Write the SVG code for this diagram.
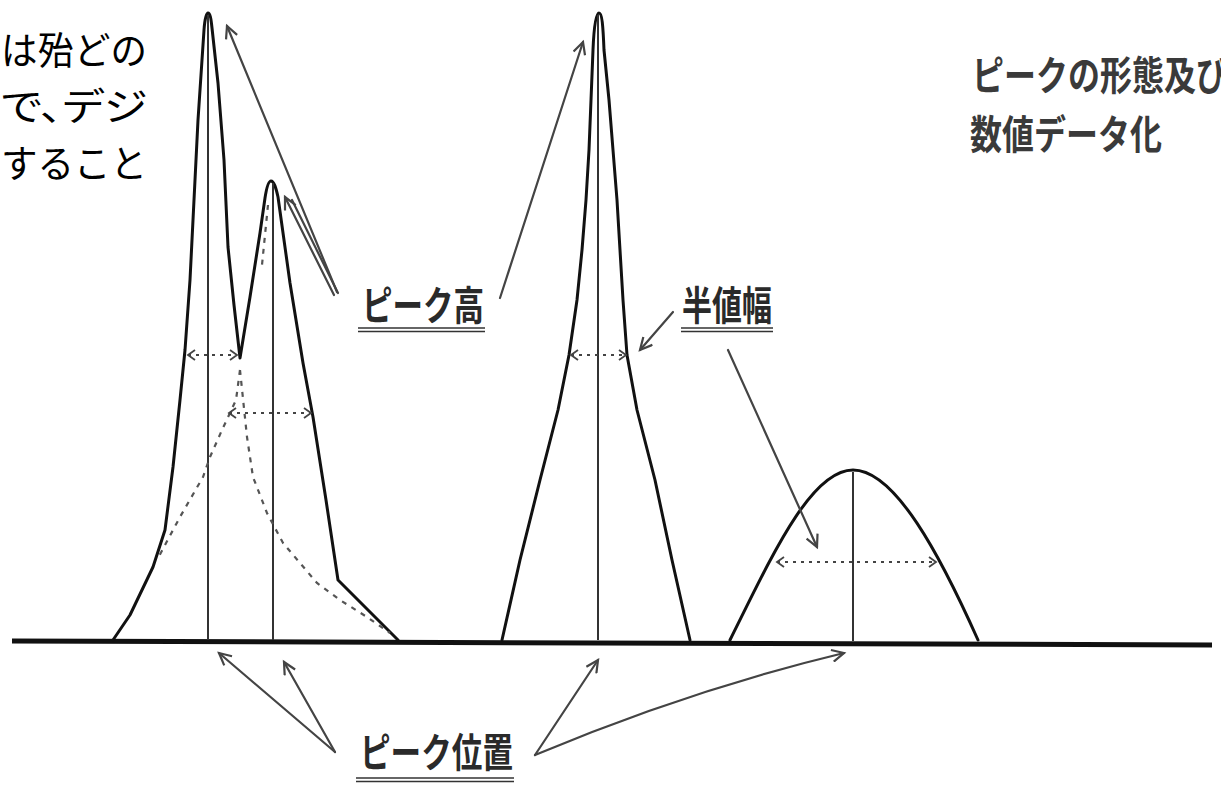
<svg xmlns="http://www.w3.org/2000/svg" width="1221" height="787" viewBox="0 0 1221 787">
<defs>
<style>
.curve{fill:none;stroke:#111;stroke-width:3;stroke-linejoin:round;stroke-linecap:round}
.vert{fill:none;stroke:#333;stroke-width:2}
.dash{fill:none;stroke:#555;stroke-width:2.2;stroke-dasharray:5 6}
.hw{fill:none;stroke:#444;stroke-width:2;stroke-dasharray:3 5}
.conn{fill:none;stroke:#444;stroke-width:2.2;stroke-linecap:round}
.lbl{font-family:"Noto Sans CJK JP","Noto Sans",sans-serif;font-weight:bold;fill:#2a2a2a}
.ttl{font-family:"Noto Sans CJK JP","Noto Sans",sans-serif;font-weight:bold;fill:#3a3a3a}
.body{font-family:"Noto Sans CJK JP","Noto Sans",sans-serif;fill:#000}
.ul{stroke:#333;stroke-width:1.6}
</style>
<marker id="ah" markerWidth="16" markerHeight="14" refX="13" refY="7" orient="auto" markerUnits="userSpaceOnUse">
<path d="M1,1 L13,7 L1,13" fill="none" stroke="#444" stroke-width="2.2"/>
</marker>
<marker id="ch" markerWidth="10" markerHeight="12" refX="8" refY="6" orient="auto-start-reverse" markerUnits="userSpaceOnUse">
<path d="M1,1 L8,6 L1,11" fill="none" stroke="#444" stroke-width="1.8"/>
</marker>
</defs>
<rect width="1221" height="787" fill="#fff"/>

<g id="intro-text">
<text class="body" font-size="38" x="1" y="64" textLength="146" lengthAdjust="spacingAndGlyphs">は殆どの</text>
<text class="body" font-size="38" x="1" y="120" textLength="146" lengthAdjust="spacingAndGlyphs" style="font-feature-settings:'palt'">で、デジ</text>
<text class="body" font-size="38" x="1" y="177" textLength="146" lengthAdjust="spacingAndGlyphs">すること</text>
</g>

<g id="title">
<text class="ttl" font-size="40" x="972" y="90" textLength="256" lengthAdjust="spacingAndGlyphs">ピークの形態及び</text>
<text class="ttl" font-size="40" x="970" y="149" textLength="192" lengthAdjust="spacingAndGlyphs">数値データ化</text>
</g>

<g id="baseline">
<line x1="12" y1="641" x2="1212" y2="645" stroke="#111" stroke-width="5"/>
</g>

<g id="double-peak">
<path class="curve" d="M113,640 L130,615 L153,567 L165,530 L173,467 L180,400 L185,350 L190,280 L194,200 L198,120 L202,60 L204,30 C205,16 207,13 208,13 C210,13 211,18 212,28 L218,83 L224,160 L228,247 L234,305 L240,358 L250,297 L260,233 L265,198 C267,185 269,181 271,181 C274,181 276,188 278,197 L290,283 L303,363 L313,417 L326,500 L338,580 L398,640"/>
<line class="vert" x1="208" y1="15" x2="208" y2="640"/>
<line class="vert" x1="273" y1="183" x2="273" y2="640"/>
<path class="dash" d="M240,370 L236,400 L222,430 L210,457 L203,477 L180,517 L157,560"/>
<path class="dash" d="M240,370 L247,437 L253,477 L267,513 L283,543 L300,563 L317,583 L340,600 L367,617 L390,633"/>
<path class="dash" d="M268,205 L262,265"/>
<line class="hw" x1="188" y1="355" x2="237" y2="355" marker-start="url(#ch)" marker-end="url(#ch)"/>
<line class="hw" x1="229" y1="413" x2="311" y2="413" marker-start="url(#ch)" marker-end="url(#ch)"/>
</g>

<g id="center-peak">
<path class="curve" d="M502,640 L520,560 L540,480 L558,410 L569,355 L577,300 L582,250 L586,200 L589,150 L591,100 L593,50 C594,25 596,13 599,13 C602,13 603,25 604,50 L609,100 L613,150 L617,200 L620,250 L623,300 L627,355 L637,410 L655,480 L672,560 L690,640"/>
<line class="vert" x1="598" y1="15" x2="598" y2="640"/>
<line class="hw" x1="571" y1="355" x2="626" y2="355" marker-start="url(#ch)" marker-end="url(#ch)"/>
</g>

<g id="broad-peak">
<path class="curve" d="M730,640 C770,560 810,470 853,470 C895,470 940,555 978,640"/>
<line class="vert" x1="853" y1="472" x2="853" y2="641"/>
<line class="hw" x1="777" y1="562" x2="936" y2="562" marker-start="url(#ch)" marker-end="url(#ch)"/>
</g>

<g id="label-peak-height">
<text class="lbl" font-size="40" x="362" y="320" textLength="122" lengthAdjust="spacingAndGlyphs">ピーク高</text>
<line class="ul" x1="358" y1="328" x2="485" y2="328"/>
<line class="ul" x1="358" y1="331.5" x2="485" y2="331.5"/>
</g>

<g id="label-half-width">
<text class="lbl" font-size="40" x="682" y="320" textLength="90" lengthAdjust="spacingAndGlyphs">半値幅</text>
<line class="ul" x1="681" y1="328" x2="773" y2="328"/>
<line class="ul" x1="681" y1="331.5" x2="773" y2="331.5"/>
</g>

<g id="label-peak-position">
<text class="lbl" font-size="40" x="360" y="767" textLength="153" lengthAdjust="spacingAndGlyphs">ピーク位置</text>
<line class="ul" x1="356" y1="778" x2="514" y2="778"/>
<line class="ul" x1="356" y1="781.5" x2="514" y2="781.5"/>
</g>

<g id="connectors">
<line class="conn" x1="337" y1="292" x2="227" y2="26" marker-end="url(#ah)"/>
<line class="conn" x1="334" y1="295" x2="285" y2="197" marker-end="url(#ah)"/>
<line class="conn" x1="338" y1="293" x2="292" y2="200"/>
<line class="conn" x1="500" y1="298" x2="583" y2="42" marker-end="url(#ah)"/>
<line class="conn" x1="673" y1="312" x2="640" y2="350" marker-end="url(#ah)"/>
<line class="conn" x1="728" y1="350" x2="817" y2="547" marker-end="url(#ah)"/>
<line class="conn" x1="335" y1="752" x2="219" y2="653" marker-end="url(#ah)"/>
<line class="conn" x1="335" y1="752" x2="284" y2="662" marker-end="url(#ah)"/>
<line class="conn" x1="535" y1="755" x2="598" y2="660" marker-end="url(#ah)"/>
<path class="conn" d="M535,755 Q690,690 844,653" marker-end="url(#ah)"/>
</g>
</svg>
